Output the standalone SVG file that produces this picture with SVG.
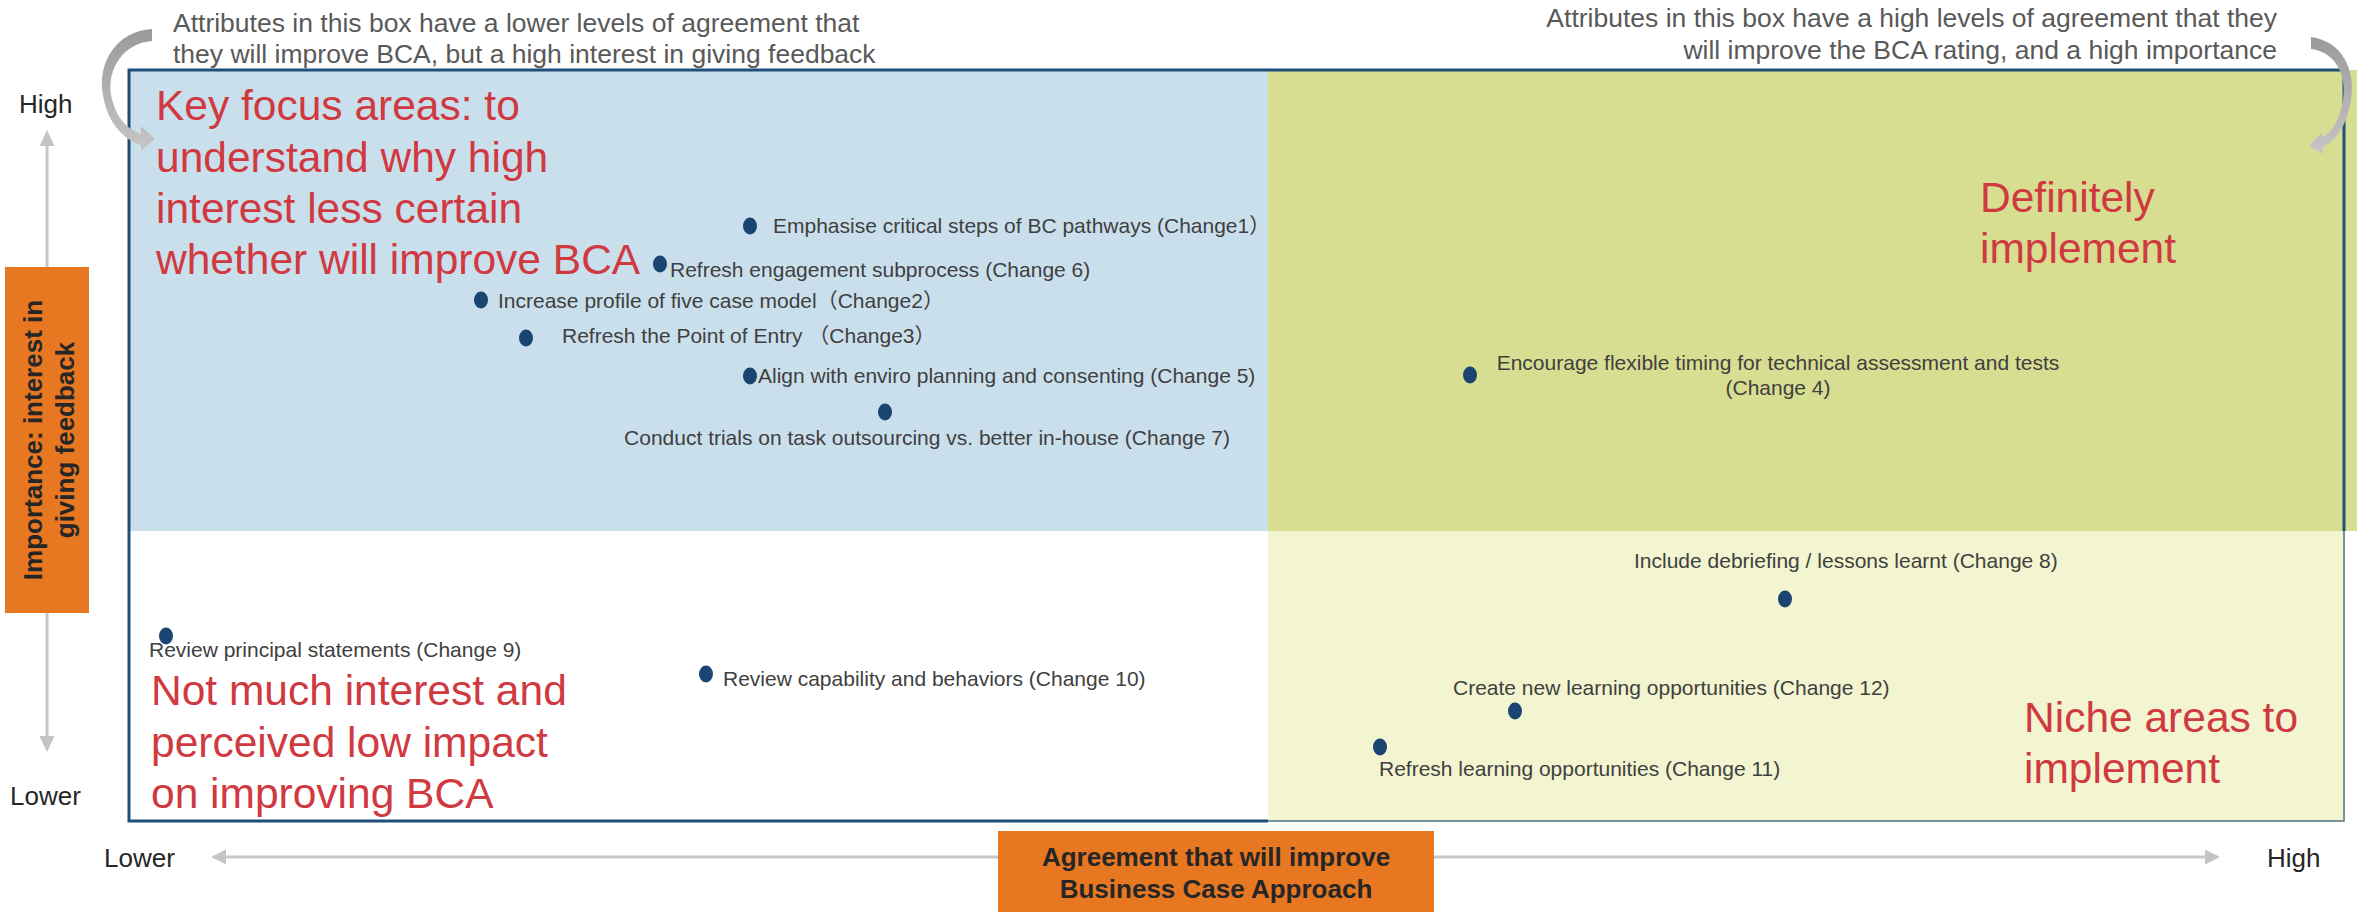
<svg xmlns="http://www.w3.org/2000/svg" width="2359" height="912" viewBox="0 0 2359 912">
  <defs>
    <style>
      text { font-family: "Liberation Sans", Arial, "Noto Sans CJK SC", sans-serif; }
      .note { font-size: 26.5px; fill: #595959; }
      .big { font-size: 42.5px; fill: #d0393f; }
      .lbl { font-size: 21px; fill: #404040; }
      .axis { font-size: 26px; fill: #262626; }
      .boxlbl { font-size: 26px; font-weight: bold; fill: #262626; }
      .dot { fill: #1a4472; }
      .axisline { stroke: #c8c8c8; stroke-width: 3; fill: none; }
      .axishead { fill: #c4c4c4; }
    </style>
    <linearGradient id="curveFill" x1="0" y1="0" x2="0" y2="1">
      <stop offset="0" stop-color="#9a9a9a"/>
      <stop offset="1" stop-color="#c6c6c6"/>
    </linearGradient>
  </defs>

  <rect width="2359" height="912" fill="#ffffff"/>

  <!-- quadrants -->
  <g id="quadrant-top-left">
    <rect x="129" y="70" width="1139" height="461" fill="#cadfec"/>
  </g>
  <g id="quadrant-top-right">
    <rect x="1268" y="70" width="1089" height="461" fill="#d7de91"/>
  </g>
  <g id="quadrant-bottom-right">
    <rect x="1268" y="531" width="1077" height="290" fill="#f2f5cf"/>
  </g>
  <g id="plot-frame" fill="none">
    <path d="M1268,821 H129 V70 H2344 V531" stroke="#1f4e79" stroke-width="3"/>
    <path d="M2344,531 V821 H1268" stroke="#4f6f82" stroke-width="1.5"/>
  </g>

  <!-- quadrant headings -->
  <g id="heading-key-focus">
    <text class="big" x="156" y="120">Key focus areas: to</text>
    <text class="big" x="156" y="172">understand why high</text>
    <text class="big" x="156" y="223">interest less certain</text>
    <text class="big" x="156" y="274">whether will improve BCA</text>
  </g>
  <g id="heading-definitely">
    <text class="big" x="1980" y="212">Definitely</text>
    <text class="big" x="1980" y="263">implement</text>
  </g>
  <g id="heading-niche">
    <text class="big" x="2024" y="732">Niche areas to</text>
    <text class="big" x="2024" y="783">implement</text>
  </g>
  <g id="heading-low">
    <text class="big" x="151" y="705">Not much interest and</text>
    <text class="big" x="151" y="757">perceived low impact</text>
    <text class="big" x="151" y="808">on improving BCA</text>
  </g>

  <!-- notes above the plot -->
  <g id="note-left">
    <text class="note" x="173" y="32">Attributes in this box have a lower levels of agreement that</text>
    <text class="note" x="173" y="63">they will improve BCA, but a high interest in giving feedback</text>
  </g>
  <g id="note-right">
    <text class="note" x="2277" y="27" text-anchor="end">Attributes in this box have a high levels of agreement that they</text>
    <text class="note" x="2277" y="59" text-anchor="end">will improve the BCA rating, and a high importance</text>
  </g>

  <!-- data points -->
  <g id="change-1">
    <ellipse class="dot" cx="750" cy="226" rx="7" ry="8.5"/>
    <text class="lbl" x="773" y="233">Emphasise critical steps of BC pathways (Change1）</text>
  </g>
  <g id="change-6">
    <ellipse class="dot" cx="660" cy="264" rx="7" ry="8.5"/>
    <text class="lbl" x="670" y="277">Refresh engagement subprocess (Change 6)</text>
  </g>
  <g id="change-2">
    <ellipse class="dot" cx="481" cy="300" rx="7" ry="8.5"/>
    <text class="lbl" x="498" y="308">Increase profile of five case model（Change2）</text>
  </g>
  <g id="change-3">
    <ellipse class="dot" cx="526" cy="338" rx="7" ry="8.5"/>
    <text class="lbl" x="562" y="343">Refresh the Point of Entry （Change3）</text>
  </g>
  <g id="change-5">
    <ellipse class="dot" cx="750" cy="376" rx="7" ry="8.5"/>
    <text class="lbl" x="758" y="383">Align with enviro planning and consenting (Change 5)</text>
  </g>
  <g id="change-7">
    <ellipse class="dot" cx="885" cy="412" rx="7" ry="8.5"/>
    <text class="lbl" x="927" y="445" text-anchor="middle">Conduct trials on task outsourcing vs. better in-house (Change 7)</text>
  </g>
  <g id="change-4">
    <ellipse class="dot" cx="1470" cy="375" rx="7" ry="8.5"/>
    <text class="lbl" x="1778" y="370" text-anchor="middle">Encourage flexible timing for technical assessment and tests</text>
    <text class="lbl" x="1778" y="395" text-anchor="middle">(Change 4)</text>
  </g>
  <g id="change-8">
    <ellipse class="dot" cx="1785" cy="599" rx="7" ry="8.5"/>
    <text class="lbl" x="1634" y="568">Include debriefing / lessons learnt (Change 8)</text>
  </g>
  <g id="change-12">
    <ellipse class="dot" cx="1515" cy="711" rx="7" ry="8.5"/>
    <text class="lbl" x="1453" y="695">Create new learning opportunities (Change 12)</text>
  </g>
  <g id="change-11">
    <ellipse class="dot" cx="1380" cy="747" rx="7" ry="8.5"/>
    <text class="lbl" x="1379" y="776">Refresh learning opportunities (Change 11)</text>
  </g>
  <g id="change-9">
    <ellipse class="dot" cx="166" cy="636" rx="7" ry="8.5"/>
    <text class="lbl" x="149" y="657">Review principal statements (Change 9)</text>
  </g>
  <g id="change-10">
    <ellipse class="dot" cx="706" cy="674" rx="7" ry="8.5"/>
    <text class="lbl" x="723" y="686">Review capability and behaviors (Change 10)</text>
  </g>

  <!-- axes and pointer arrows -->
  <g id="connectors">
    <line class="axisline" x1="47" y1="144" x2="47" y2="267"/>
    <polygon class="axishead" points="47,130 39.5,146 54.5,146"/>
    <line class="axisline" x1="47" y1="613" x2="47" y2="738"/>
    <polygon class="axishead" points="47,752 39.5,736 54.5,736"/>
    <line class="axisline" x1="225" y1="857" x2="998" y2="857"/>
    <polygon class="axishead" points="211,857 226,849.5 226,864.5"/>
    <line class="axisline" x1="1434" y1="857" x2="2206" y2="857"/>
    <polygon class="axishead" points="2220,857 2205,849.5 2205,864.5"/>
    <path fill="url(#curveFill)" d="M152,29 C117,31 97,62 103,95 C107,121 122,139 141,145 L141,151 L155,139 L141,126 L141,134 C126,129 115,116 111,95 C107,68 124,43 152,41 Z"/>
    <path fill="url(#curveFill)" d="M2311,37 C2342,41 2356,70 2351,100 C2347,125 2337,140 2323,147 L2323,154 L2309,146 L2322,132 L2322,138 C2333,131 2340,118 2343,100 C2347,74 2335,52 2311,49 Z"/>
  </g>

  <!-- axis labels -->
  <g id="y-axis-title">
    <rect x="5" y="267" width="84" height="346" fill="#e87722"/>
    <text class="boxlbl" transform="translate(42,440) rotate(-90)" text-anchor="middle">Importance: interest in</text>
    <text class="boxlbl" transform="translate(74,440) rotate(-90)" text-anchor="middle">giving feedback</text>
  </g>
  <g id="x-axis-title">
    <rect x="998" y="831" width="436" height="81" fill="#e87722"/>
    <text class="boxlbl" x="1216" y="866" text-anchor="middle">Agreement that will improve</text>
    <text class="boxlbl" x="1216" y="898" text-anchor="middle">Business Case Approach</text>
  </g>
  <g id="y-high"><text class="axis" x="19" y="113">High</text></g>
  <g id="y-lower"><text class="axis" x="10" y="805">Lower</text></g>
  <g id="x-lower"><text class="axis" x="104" y="867">Lower</text></g>
  <g id="x-high"><text class="axis" x="2267" y="867">High</text></g>
</svg>
